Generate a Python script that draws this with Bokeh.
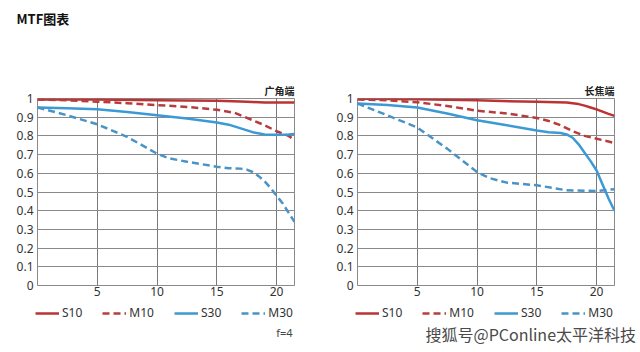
from bokeh.plotting import figure
from bokeh.layouts import row, column
from bokeh.models import Range1d, FixedTicker, Label, Legend, LegendItem
from bokeh.embed import file_html
from bokeh.resources import INLINE

# ---- data ----
title_text = "MTF图表"
panel_titles = ["广角端", "长焦端"]
series_names = ["S10", "M10", "S30", "M30"]
x_ticks = [5, 10, 15, 20]
y_ticks = [0, 0.1, 0.2, 0.3, 0.4, 0.5, 0.6, 0.7, 0.8, 0.9, 1.0]
y_tick_labels = ["0", "0.1", "0.2", "0.3", "0.4", "0.5", "0.6", "0.7", "0.8", "0.9", "1"]
aperture_note = "f=4"
watermark = "搜狐号@PConline太平洋科技"

# wide end (广角端)
w_s10_x = [0, 5, 10, 15, 17, 18, 19, 20, 21.5]
w_s10_y = [0.995, 0.994, 0.991, 0.988, 0.984, 0.981, 0.979, 0.978, 0.978]
w_m10_x = [0, 2.5, 5, 7.5, 10, 12.5, 15, 16.5, 18, 19, 20, 21, 21.5]
w_m10_y = [0.995, 0.99, 0.983, 0.975, 0.965, 0.955, 0.94, 0.923, 0.884, 0.857, 0.825, 0.8, 0.78]
w_s30_x = [0, 2.5, 5, 7.5, 10, 12.5, 15, 16, 17, 18, 19, 20, 21, 21.5]
w_s30_y = [0.952, 0.948, 0.942, 0.928, 0.91, 0.893, 0.872, 0.86, 0.84, 0.82, 0.808, 0.806, 0.808, 0.81]
w_m30_x = [0, 2.5, 5, 7.5, 10, 11, 12.5, 15, 16, 17, 17.5, 18, 18.5, 19, 19.5, 20, 20.5, 21, 21.5]
w_m30_y = [0.952, 0.91, 0.862, 0.795, 0.705, 0.68, 0.662, 0.635, 0.627, 0.625, 0.62, 0.607, 0.585, 0.557, 0.522, 0.48, 0.44, 0.39, 0.34]

# tele end (长焦端)
t_s10_x = [0, 5, 10, 15, 17.5, 18.5, 19, 19.5, 20, 20.5, 21, 21.5]
t_s10_y = [0.998, 0.996, 0.99, 0.982, 0.978, 0.97, 0.962, 0.952, 0.942, 0.93, 0.918, 0.907]
t_m10_x = [0, 2.5, 5, 7.5, 10, 12.5, 15, 16, 17, 18, 19, 20, 21, 21.5]
t_m10_y = [0.995, 0.99, 0.98, 0.96, 0.935, 0.92, 0.896, 0.88, 0.857, 0.825, 0.8, 0.785, 0.77, 0.762]
t_s30_x = [0, 2.5, 5, 7.5, 10, 12.5, 15, 16, 17, 17.5, 18, 18.5, 19, 19.5, 20, 20.5, 21, 21.5]
t_s30_y = [0.973, 0.965, 0.952, 0.92, 0.884, 0.857, 0.829, 0.82, 0.815, 0.808, 0.79, 0.755, 0.71, 0.665, 0.615, 0.54, 0.465, 0.40]
t_m30_x = [0, 2.5, 5, 7.5, 10, 11, 12.5, 15, 17.5, 20, 21.5]
t_m30_y = [0.973, 0.91, 0.845, 0.732, 0.607, 0.575, 0.55, 0.536, 0.509, 0.505, 0.515]

RED = "#bd3232"
RED_D = "#b83c3c"
BLUE = "#3b9ad4"
BLUE_D = "#4a93c6"
styles = [(RED, "solid"), (RED_D, "7 4"), (BLUE, "solid"), (BLUE_D, "7 4")]
FONT = "Noto Sans"
CJK = "Noto Sans CJK SC"


def strip(h):
    f = figure(width=640, height=h, output_backend="svg", toolbar_location=None,
               x_range=Range1d(0, 640), y_range=Range1d(h, 0),
               min_border=0, min_border_left=0, min_border_right=0,
               min_border_top=0, min_border_bottom=0)
    f.axis.visible = False
    f.grid.visible = False
    f.outline_line_color = None
    return f


# ---- top strip with the page title ----
top = strip(40)
top.add_layout(Label(x=16, y=18, text=title_text, text_align="left",
                     text_baseline="middle", text_font=CJK, text_font_size="13px",
                     text_font_style="bold", text_color="#111111"))


def make_panel(curves, header):
    p = figure(width=320, height=263, output_backend="svg", toolbar_location=None,
               x_range=Range1d(0, 21.5), y_range=Range1d(0, 1),
               min_border_left=37, min_border_right=26, min_border_top=58,
               min_border_bottom=18)
    p.outline_line_color = "#8a8a8a"
    p.outline_line_width = 1

    p.title.text = header
    p.title.align = "right"
    p.title.text_font = CJK
    p.title.text_font_size = "10px"
    p.title.text_font_style = "bold"
    p.title.text_color = "#222222"
    p.title.standoff = 2

    for ax in (p.xaxis, p.yaxis):
        ax.axis_line_color = None
        ax.major_tick_line_color = None
        ax.minor_tick_line_color = None
        ax.major_tick_out = 0
        ax.major_tick_in = 0
        ax.minor_tick_out = 0
        ax.minor_tick_in = 0
        ax.major_label_text_font = FONT
        ax.major_label_text_font_size = "12px"
        ax.major_label_text_color = "#333333"
    p.xaxis.ticker = FixedTicker(ticks=x_ticks)
    p.yaxis.ticker = FixedTicker(ticks=y_ticks)
    p.yaxis.major_label_overrides = {t: l for t, l in zip(y_ticks, y_tick_labels)}
    p.xaxis.major_label_standoff = 1
    p.yaxis.major_label_standoff = 4
    p.xgrid.ticker = FixedTicker(ticks=x_ticks)
    p.ygrid.ticker = FixedTicker(ticks=y_ticks)
    p.xgrid.grid_line_color = "#7a7a7a"
    p.ygrid.grid_line_color = "#8a8a8a"

    for (xs, ys), (col, dash) in zip(curves, styles):
        p.line(xs, ys, line_color=col, line_width=2.5, line_dash=dash,
               line_join="round")
    return p


p1 = make_panel([(w_s10_x, w_s10_y), (w_m10_x, w_m10_y), (w_s30_x, w_s30_y), (w_m30_x, w_m30_y)],
                panel_titles[0])
p2 = make_panel([(t_s10_x, t_s10_y), (t_m10_x, t_m10_y), (t_s30_x, t_s30_y), (t_m30_x, t_m30_y)],
                panel_titles[1])

# ---- bottom strip: legends and notes ----
BH = 49
bot = strip(BH)
# legend proxies: off-canvas samples that only feed the legend swatches
proxy_x = [-50, -40]
proxy_y = [-50, -50]
for lx in (35, 355):
    items = []
    for name, (col, dash) in zip(series_names, styles):
        r = bot.line(proxy_x, proxy_y, line_color=col, line_width=2.5, line_dash=dash)
        items.append(LegendItem(label=name, renderers=[r]))
    bot.add_layout(Legend(items=items, location=(lx, 31), orientation="horizontal",
                          glyph_width=24, glyph_height=12, label_standoff=3,
                          spacing=20, padding=0, margin=0,
                          border_line_color=None, background_fill_alpha=0,
                          label_text_font=FONT, label_text_font_size="12px",
                          label_text_color="#333333", label_height=12))
bot.add_layout(Label(x=292, y=29, text=aperture_note, text_align="right",
                     text_baseline="middle", text_font=FONT, text_font_size="11px",
                     text_color="#444444"))
bot.add_layout(Label(x=425, y=30, text=watermark, text_align="left",
                     text_baseline="middle", text_font=CJK, text_font_size="16px",
                     text_color="#4a4a4a"))

layout = column(top, row(p1, p2, spacing=0), bot, spacing=0)
open("out.html", "w").write(file_html(layout, INLINE))
